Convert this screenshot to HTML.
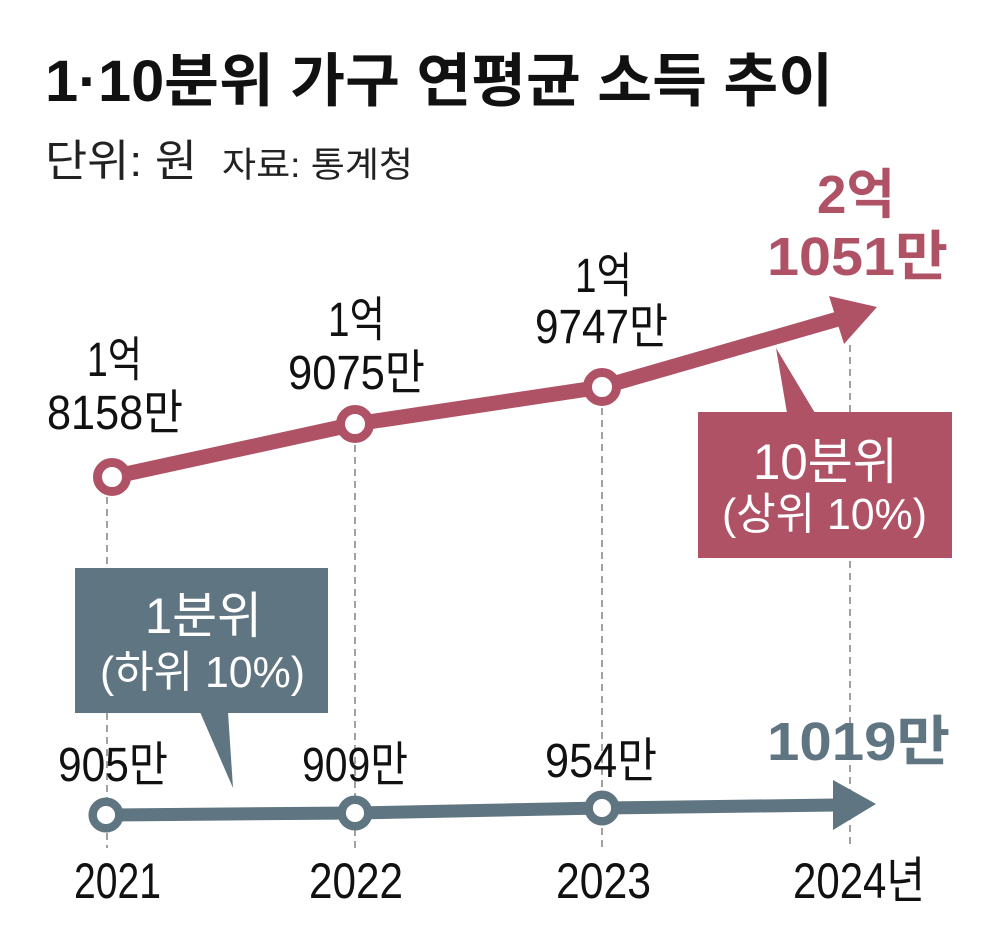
<!DOCTYPE html>
<html>
<head>
<meta charset="utf-8">
<style>
html,body{margin:0;padding:0;background:#fff;}
svg{display:block;}
text{font-family:"Liberation Sans","Noto Sans CJK KR",sans-serif;}
</style>
</head>
<body>
<svg width="1000" height="940" viewBox="0 0 1000 940" xmlns="http://www.w3.org/2000/svg">
<rect width="1000" height="940" fill="#fff"/>

<!-- Title -->
<text x="45" y="101" font-size="58" font-weight="bold" fill="#111" textLength="788" lengthAdjust="spacingAndGlyphs">1·10분위 가구 연평균 소득 추이</text>
<text x="45" y="176" font-size="44" fill="#222" textLength="152" lengthAdjust="spacingAndGlyphs">단위: 원</text>
<text x="222" y="177" font-size="35" fill="#222" textLength="191" lengthAdjust="spacingAndGlyphs">자료: 통계청</text>

<!-- dashed verticals -->
<g stroke="#8a8a8a" stroke-width="1.6" stroke-dasharray="7 5" fill="none">
<line x1="107" y1="497" x2="107" y2="848"/>
<line x1="355" y1="445" x2="355" y2="848"/>
<line x1="602" y1="408" x2="602" y2="848"/>
<line x1="850" y1="345" x2="850" y2="848"/>
</g>

<!-- red series -->
<polyline points="112,477 355,424 602,387 838,319" fill="none" stroke="#b05266" stroke-width="15" stroke-linejoin="round"/>
<polygon points="829,296 877,307 844,344" fill="#b05266"/>
<g fill="#fff" stroke="#b05266" stroke-width="9">
<circle cx="112" cy="477" r="14.5"/>
<circle cx="355" cy="424" r="14.5"/>
<circle cx="602" cy="387" r="14.5"/>
</g>

<!-- slate series -->
<polyline points="106,815 355,813 602,808 836,805" fill="none" stroke="#5f7581" stroke-width="13" stroke-linejoin="round"/>
<polygon points="833,780 876,804 833,830" fill="#5f7581"/>
<g fill="#fff" stroke="#5f7581" stroke-width="8.5">
<circle cx="106" cy="815" r="13.3"/>
<circle cx="355" cy="813" r="13.3"/>
<circle cx="602" cy="808" r="13.3"/>
</g>

<!-- red callout -->
<polygon points="776,348 787,413 815,413" fill="#b05266"/>
<rect x="698" y="412" width="254" height="146" fill="#b05266"/>
<text x="753" y="479" font-size="50" fill="#fff" textLength="145" lengthAdjust="spacingAndGlyphs">10분위</text>
<text x="722" y="529" font-size="44" fill="#fff" textLength="205" lengthAdjust="spacingAndGlyphs">(상위 10%)</text>

<!-- slate callout -->
<rect x="75" y="568" width="253" height="145" fill="#5f7581"/>
<polygon points="200,712 228,712 233,788" fill="#5f7581"/>
<text x="145" y="633" font-size="50" fill="#fff" textLength="117" lengthAdjust="spacingAndGlyphs">1분위</text>
<text x="100" y="687" font-size="44" fill="#fff" textLength="205" lengthAdjust="spacingAndGlyphs">(하위 10%)</text>

<!-- red labels -->
<g font-size="48" fill="#111">
<text x="87" y="376" textLength="55" lengthAdjust="spacingAndGlyphs">1억</text>
<text x="47" y="429" textLength="136" lengthAdjust="spacingAndGlyphs">8158만</text>
<text x="328" y="336" textLength="57" lengthAdjust="spacingAndGlyphs">1억</text>
<text x="288" y="389" textLength="137" lengthAdjust="spacingAndGlyphs">9075만</text>
<text x="575" y="292" textLength="57" lengthAdjust="spacingAndGlyphs">1억</text>
<text x="535" y="343" textLength="133" lengthAdjust="spacingAndGlyphs">9747만</text>
</g>
<g font-size="54" font-weight="bold" fill="#b05266">
<text x="817" y="213" textLength="78" lengthAdjust="spacingAndGlyphs">2억</text>
<text x="767" y="275" textLength="181" lengthAdjust="spacingAndGlyphs">1051만</text>
</g>

<!-- slate labels -->
<g font-size="48" fill="#111">
<text x="58" y="781" textLength="110" lengthAdjust="spacingAndGlyphs">905만</text>
<text x="302" y="781" textLength="106" lengthAdjust="spacingAndGlyphs">909만</text>
<text x="545" y="777" textLength="112" lengthAdjust="spacingAndGlyphs">954만</text>
</g>
<text x="767" y="760" font-size="54" font-weight="bold" fill="#5f7581" textLength="183" lengthAdjust="spacingAndGlyphs">1019만</text>

<!-- years -->
<g font-size="50" fill="#111">
<text x="74" y="898" textLength="87" lengthAdjust="spacingAndGlyphs">2021</text>
<text x="309" y="898" textLength="94" lengthAdjust="spacingAndGlyphs">2022</text>
<text x="556" y="898" textLength="95" lengthAdjust="spacingAndGlyphs">2023</text>
<text x="793" y="898" textLength="132" lengthAdjust="spacingAndGlyphs">2024년</text>
</g>
</svg>
</body>
</html>
